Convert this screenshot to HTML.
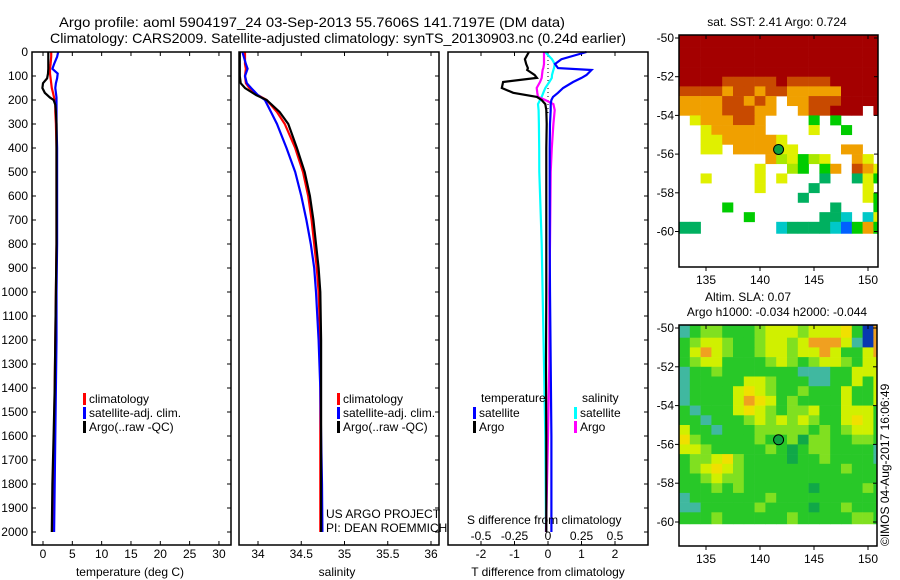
<!DOCTYPE html>
<html><head><meta charset="utf-8"><title>Argo profile</title>
<style>
html,body{margin:0;padding:0;background:#fff;}
svg{display:block;font-family:"Liberation Sans",sans-serif;}
text{font-size:12px;fill:#000;}
</style></head>
<body>
<svg id="fig" width="900" height="580" viewBox="0 0 900 580" xmlns="http://www.w3.org/2000/svg">
<text x="59" y="27" textLength="506" lengthAdjust="spacingAndGlyphs" style="font-size:14px">Argo profile: aoml 5904197_24 03-Sep-2013 55.7606S 141.7197E (DM data)</text>
<text x="50" y="43" textLength="576" lengthAdjust="spacingAndGlyphs" style="font-size:14px">Climatology: CARS2009. Satellite-adjusted climatology: synTS_20130903.nc (0.24d earlier)</text>
<text x="777" y="26" text-anchor="middle">sat. SST: 2.41  Argo: 0.724</text>
<text x="748" y="301" text-anchor="middle">Altim. SLA: 0.07</text>
<text x="777" y="316" text-anchor="middle">Argo h1000: -0.034 h2000: -0.044</text>
<text transform="translate(889,546) rotate(-90)" x="0" y="0">©IMOS 04-Aug-2017 16:06:49</text>
<g id="g"></g>
</svg>
<script>
// ---------- data ----------
const depthT = [0,20,50,70,90,110,130,150,170,190,200,220,250,300,400,600,800,1000,1200,1400,1600,1800,2000];
const tempArgo = [0.9,0.9,0.9,0.9,0.85,0.7,0.0,-0.1,0.3,1.2,1.8,2.1,2.2,2.3,2.3,2.3,2.3,2.2,2.1,2.0,1.8,1.6,1.5];
const tempClim = [1.4,1.4,1.3,1.2,1.2,1.3,1.4,1.5,1.7,1.9,2.0,2.1,2.1,2.2,2.3,2.3,2.3,2.2,2.1,2.0,1.9,1.8,1.7];
const tempSat  = [2.6,2.4,1.9,1.6,2.5,2.4,2.2,2.1,2.2,2.3,2.3,2.3,2.3,2.3,2.4,2.4,2.4,2.3,2.3,2.2,2.1,2.0,1.9];
const depthS = [0,50,70,100,130,150,180,200,250,300,400,500,600,700,800,900,1000,1200,1400,1600,1800,2000];
const salArgo = [33.79,33.79,33.79,33.79,33.80,33.85,33.98,34.10,34.25,34.35,34.45,34.54,34.60,34.64,34.67,34.70,34.72,34.73,34.73,34.73,34.73,34.73];
const salClim = [33.85,33.85,33.86,33.85,33.86,33.90,34.00,34.10,34.22,34.31,34.43,34.52,34.58,34.62,34.65,34.68,34.70,34.72,34.72,34.72,34.72,34.72];
const salSat  = [33.82,33.86,33.88,33.85,33.87,33.92,34.00,34.08,34.15,34.22,34.33,34.43,34.50,34.56,34.61,34.65,34.67,34.70,34.72,34.73,34.74,34.745];
const depthD = [0,30,50,67,75,96,108,125,150,170,187,200,217,242,300,400,500,800,1000,1300,1600,2000];
const dTArgo = [-0.57,-0.69,-0.65,-0.6,-0.62,-0.4,-0.33,-1.34,-1.38,-1.04,-0.33,-0.19,-0.08,-0.05,-0.04,-0.05,-0.05,-0.05,-0.05,-0.06,-0.05,-0.05];
const dTSat  = [1.15,0.4,0.21,0.3,1.3,1.15,1.0,0.75,0.45,0.3,0.15,0.1,0.08,0.08,0.06,0.05,0.05,0.05,0.06,0.08,0.1,0.1];
const dSSat  = [-0.022,0.03,0.05,0.045,0.04,0.03,0.028,0.01,-0.02,-0.035,-0.047,-0.06,-0.075,-0.07,-0.068,-0.066,-0.065,-0.047,-0.04,-0.03,-0.02,-0.015];
const dSArgo = [-0.03,-0.03,-0.03,-0.035,-0.04,-0.045,-0.047,-0.06,-0.084,-0.08,-0.075,-0.02,0.04,0.05,0.04,0.028,0.02,0.015,0.01,0.01,0.0,-0.015];
const depthTicks = [0,100,200,300,400,500,600,700,800,900,1000,1100,1200,1300,1400,1500,1600,1700,1800,1900,2000];
const tempTicks = [0,5,10,15,20,25,30];
const salTicks = [34,34.5,35,35.5,36];
const dTTicks = [-2,-1,0,1,2];
const dSTicks = [-0.5,-0.25,0,0.25,0.5];
const latTicks = [-50,-52,-54,-56,-58,-60];
const lonTicks = [135,140,145,150];
const sstGrid = [
"RRRRRRRRRRRRRRRRRRR",
"RRRRRRRRRRRRRRRRRRR",
"RRRRRRRRRRRRRRRRRRR",
"RRRRRRRRRRRRRRRRRRR",
"RRRRDDDDDRDDDDRRRRR",
"DDDDODDODDOOOOORRRR",
"OOOODDODO.OODDDRRRR",
"OOOODDDOO..ODDRRR.R",
".YOOODDO....G.G....",
"..YOOOOO....Y..G...",
"..YYOOOOOY.........",
"..YY.OOOOYY....OO..",
"........OyYGyY..OY.",
".......Y..yG.GO.DOY",
"..Y....Y.Y...g..gYG",
".......Y....g....Y.",
"...........g.....YG",
"....G.........g...G",
"......G......ggC.CY",
"gg.......CggggCBGOG"];
const slaGrid = [
"CGLLGGGLyyyLyyyYGBO",
"GLyyLGGLyyLyOOOyCBO",
"GyOyLGGLyyLyyOyGGyO",
"GLyyGGGGLyLGLyyLGyy",
"CGGLGGGGGGGCCCGGyyy",
"CGGGGGyyLGGGCCGGyGy",
"CGGGGyYyLGGLGGGyGGy",
"CGGGGyOYyGLGGGGyGGy",
"GCGGGyYyLGLLyGGyyyG",
"GGCGGGLyLyLyLGGyYyG",
"yGGCGGGLLLLLGLGLyyG",
"YLGGGGGLGGLgLLGGLLG",
"yyLGGGGGLGgGLLGGGGC",
"GLLyYLGGGGgGGLGGGGC",
"GLyYyLGGGGGGGGGLGGG",
"GGLyLLGGGGGGGGGGGGG",
"GGGLGLGGGGGGgGGGGLG",
"CGGGGGGGLGGGGGGGGGG",
"CCGGGGGLGGGGgGGLGGG",
"GGGLGGGGGGLGGGGGLLG"];
const floatLon = 141.7197, floatLat = -55.7606;

// ---------- helpers ----------
const NS="http://www.w3.org/2000/svg";
const G=document.getElementById('g');
function el(tag,attrs,parent){const e=document.createElementNS(NS,tag);for(const k in attrs)e.setAttribute(k,attrs[k]);(parent||G).appendChild(e);return e;}
function txt(s,x,y,anchor,parent){const t=el('text',{x:x,y:y,'text-anchor':anchor||'start'},parent);t.textContent=s;return t;}
const dY=d=>52+d*0.24;
const tX=v=>43+v*5.865;
const sX=v=>258+(v-34)*86.5;
const dtX=v=>548+v*33.5;
const dsX=v=>548+v*134;
const lonX=v=>706+(v-135)*10.8;
const lat1Y=v=>38+(-50-v)*19.35;
const lat2Y=v=>328+(-50-v)*19.4;

function frame(x,y,w,h,name){const r=el('rect',{x:x,y:y,width:w,height:h,fill:'none',stroke:'#000','stroke-width':1.5});

return r;}
function line(xs,ys,color,name,w){const pts=xs.map((x,i)=>x.toFixed(1)+','+ys[i].toFixed(1)).join(' ');
const p=el('polyline',{points:pts,fill:'none',stroke:color,'stroke-width':w||2.2});

return p;}

// ---------- panel 1 temperature ----------
const P1={x:32,y:52,w:199,h:493};
depthTicks.forEach(d=>{const y=dY(d);
 el('line',{x1:P1.x,x2:P1.x+4,y1:y,y2:y,stroke:'#000'});
 el('line',{x1:P1.x+P1.w-4,x2:P1.x+P1.w,y1:y,y2:y,stroke:'#000'});
 const t=txt(String(d),28,y+4,'end');
 
 
 el('line',{x1:644,x2:648,y1:y,y2:y,stroke:'#000'});
 el('line',{x1:435,x2:439,y1:y,y2:y,stroke:'#000'});
});
tempTicks.forEach(v=>{const x=tX(v);
 el('line',{x1:x,x2:x,y1:P1.y,y2:P1.y+4,stroke:'#000'});
 el('line',{x1:x,x2:x,y1:P1.y+P1.h-4,y2:P1.y+P1.h,stroke:'#000'});
 const t=txt(String(v),x,558,'middle');
 
 
});
line(tempClim.map(tX),depthT.map(dY),'#f00','temp-climatology-line');
line(tempSat.map(tX),depthT.map(dY),'#00f','temp-satellite-line');
line(tempArgo.map(tX),depthT.map(dY),'#000','temp-argo-line');
frame(P1.x,P1.y,P1.w,P1.h,'temperature-panel');
let t=txt('temperature (deg C)',130,576,'middle');



// ---------- panel 2 salinity ----------
const P2={x:239,y:52,w:200,h:493};
salTicks.forEach(v=>{const x=sX(v);
 el('line',{x1:x,x2:x,y1:P2.y,y2:P2.y+4,stroke:'#000'});
 el('line',{x1:x,x2:x,y1:P2.y+P2.h-4,y2:P2.y+P2.h,stroke:'#000'});
 const t=txt(String(v),x,558,'middle');
 
 
});
line(salClim.map(sX),depthS.map(dY),'#f00','sal-climatology-line');
line(salSat.map(sX),depthS.map(dY),'#00f','sal-satellite-line');
line(salArgo.map(sX),depthS.map(dY),'#000','sal-argo-line');
frame(P2.x,P2.y,P2.w,P2.h,'salinity-panel');
t=txt('salinity',337,576,'middle');


t=txt('US ARGO PROJECT',326,518);


t=txt('PI: DEAN ROEMMICH',326,532);



// legends
function legend(x,y,items,prefix){items.forEach((it,i)=>{
 el('rect',{x:x,y:y+i*14-9,width:3,height:12,fill:it[1]});
 const t=txt(it[0],x+6,y+i*14+1);
 
 });}
const legItems=[['climatology','#f00'],['satellite-adj. clim.','#00f'],['Argo(..raw -QC)','#000']];
legend(83,402,legItems,'temp');
legend(337,402,legItems,'sal');

// ---------- panel 3 differences ----------
const P3={x:448,y:52,w:200,h:493};
dTTicks.forEach(v=>{const x=dtX(v);
 el('line',{x1:x,x2:x,y1:P3.y,y2:P3.y+4,stroke:'#000'});
 el('line',{x1:x,x2:x,y1:P3.y+P3.h-4,y2:P3.y+P3.h,stroke:'#000'});
 const t=txt(String(v),x,558,'middle');
 
 
});
dSTicks.forEach(v=>{const x=dsX(v);
 const t=txt(String(v),x,540,'middle');
 
 
});
el('line',{x1:548,x2:548,y1:52,y2:115,stroke:'#000','stroke-dasharray':'1,3'});
line(dSSat.map(dsX),depthD.map(dY),'#0ff','sdiff-satellite-line');
line(dSArgo.map(dsX),depthD.map(dY),'#f0f','sdiff-argo-line');
line(dTSat.map(dtX),depthD.map(dY),'#00f','tdiff-satellite-line');
line(dTArgo.map(dtX),depthD.map(dY),'#000','tdiff-argo-line');
frame(P3.x,P3.y,P3.w,P3.h,'difference-panel');
t=txt('temperature',481,402);  
t=txt('salinity',582,402);  
legend(473,416,[['satellite','#00f'],['Argo','#000']],'tdiff');
legend(574,416,[['satellite','#0ff'],['Argo','#f0f']],'sdiff');
t=txt('S difference from climatology',467,524);  
t=txt('T difference from climatology',548,576,'middle');  

// ---------- maps ----------
const sstCol={R:'#a40000',D:'#c84a00',O:'#f0a000',Y:'#e0f000',y:'#a8e800',G:'#00cc00',g:'#00b060',C:'#00c8c8',B:'#0060ff'};
const slaCol={G:'#28c828',g:'#10a848',L:'#80e020',y:'#d0f000',Y:'#f0e000',O:'#f0a020',C:'#40b8a0',B:'#0838b0'};
function drawMap(grid,cols,latY,box,name){
 const cg=el('g',{});  
 const clip=el('clipPath',{id:name+'clip'}); el('rect',{x:box.x,y:box.y,width:box.w,height:box.h},clip);
 cg.setAttribute('clip-path','url(#'+name+'clip)');
 grid.forEach((row,r)=>{for(let i=0;i<row.length;i++){const c=row[i]; if(c==='.')continue;
  const lat0=-50-0.5*r, lat1=lat0-0.5;
  let y0=latY(r===0?-49:lat0), y1=latY(r===grid.length-1?lat1-0.1:lat1);
  const x0=lonX(132.5+i), x1=lonX(133.5+i);
  const cell=el('rect',{x:x0,y:y0,width:x1-x0+0.3,height:y1-y0+0.3,fill:cols[c]},cg);
  
  }});
 latTicks.forEach(v=>{const y=latY(v);
  el('line',{x1:box.x-4,x2:box.x,y1:y,y2:y,stroke:'#000'});
  el('line',{x1:box.x+box.w-4,x2:box.x+box.w,y1:y,y2:y,stroke:'#000'});
  const t=txt(String(v),box.x-5,y+4,'end');  });
 lonTicks.forEach(v=>{const x=lonX(v);
  el('line',{x1:x,x2:x,y1:box.y,y2:box.y+4,stroke:'#000'});
  el('line',{x1:x,x2:x,y1:box.y+box.h,y2:box.y+box.h+4,stroke:'#000'});
  const t=txt(String(v),x,box.y+box.h+17,'middle');  });
 const m=el('circle',{cx:lonX(floatLon),cy:latY(floatLat),r:5,fill:'#10a040',stroke:'#000','stroke-width':1});
 
 
 frame(box.x,box.y,box.w,box.h,name+'-frame');
}
drawMap(sstGrid,sstCol,lat1Y,{x:679,y:35,w:199,h:232},'sst-map');
drawMap(slaGrid,slaCol,lat2Y,{x:679,y:325,w:198,h:221},'sla-map');
</script>
</body></html>
